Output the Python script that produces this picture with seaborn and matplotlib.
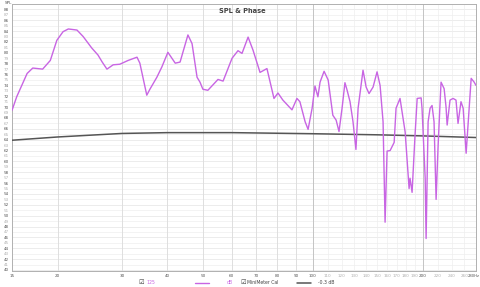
import numpy as np
import pandas as pd
import seaborn as sns
import matplotlib
matplotlib.use("Agg")
import matplotlib.pyplot as plt
from matplotlib.lines import Line2D
from matplotlib.ticker import FixedLocator, FixedFormatter

# ---- data ----
spl_freq = [15.0, 15.45, 16.5, 17.1, 18.2, 19.1, 19.9, 20.7, 21.4, 22.6, 23.5, 24.8, 25.8,
            26.5, 27.3, 28.4, 29.6, 31.2, 33.0, 33.6, 35.1, 35.8, 37.4, 38.6, 40.1, 42.0,
            43.3, 45.5, 46.7, 48.2, 49.1, 50.0, 51.6, 55.0, 56.8, 60.1, 62.4, 64.0, 66.5,
            68.6, 71.7, 74.9, 78.3, 80.3, 82.8, 87.7, 90.5, 92.2, 95.3, 97.1, 99.6, 101.4,
            103.3, 104.7, 107.4, 110.2, 113.5, 115.9, 118.0, 120.3, 122.5, 124.2, 126.5,
            128.9, 131.3, 133.1, 137.3, 140.0, 142.6, 146.3, 150.0, 152.9, 155.8, 157.8,
            159.8, 162.9, 167.1, 169.1, 173.4, 179.1, 183.6, 184.7, 187.1, 190.6, 193.2,
            198.1, 199.2, 203.2, 204.4, 207.0, 209.6, 212.2, 214.9, 217.7, 220.5, 224.6,
            229.0, 231.8, 233.4, 237.7, 242.3, 246.8, 250.0, 254.7, 258.2, 263.1, 271.6,
            276.8, 280.0]
spl_db = [69.4, 71.9, 76.2, 77.2, 77.0, 78.6, 82.3, 83.9, 84.4, 84.2, 83.0, 80.9, 79.6,
          78.3, 77.0, 77.8, 77.9, 78.6, 79.2, 78.1, 72.2, 73.3, 75.5, 77.4, 80.1, 78.1,
          78.3, 83.3, 81.7, 75.5, 74.6, 73.3, 73.1, 75.1, 74.8, 79.0, 80.4, 79.9, 82.9,
          80.5, 76.4, 77.1, 71.6, 72.6, 71.3, 69.5, 71.6, 71.0, 67.3, 65.9, 69.8, 73.9,
          71.9, 74.6, 76.6, 75.0, 68.5, 67.6, 65.5, 69.8, 74.5, 73.1, 71.0,
          67.3, 62.2, 69.8, 76.8, 73.7, 72.5, 73.7, 76.5, 74.0, 67.3, 48.8,
          61.9, 62.0, 63.5, 69.8, 71.6, 65.4, 55.0, 56.9, 54.3, 64.8, 71.6,
          71.7, 69.8, 56.9, 45.8, 67.3, 69.8, 70.3, 67.3, 53.0, 63.0, 74.6,
          73.4, 70.0, 66.7, 71.3, 71.6, 71.3, 67.0, 71.0, 69.8, 61.5, 75.3,
          74.6, 74.0]

cal_freq = [15, 20, 30, 40, 60, 100, 150, 200, 280]
cal_db = [63.9, 64.5, 65.15, 65.3, 65.3, 65.1, 64.9, 64.7, 64.4]

x_major = [15, 20, 30, 40, 50, 60, 70, 80, 90, 100, 200]
x_labels_major = ["15", "20", "30", "40", "50", "60", "70", "80", "90", "100", "200"]
x_minor = [110, 120, 130, 140, 150, 160, 170, 180, 190, 220, 240, 260]
x_labels_minor = ["110", "120", "130", "140", "150", "160", "170", "180", "190", "220", "240", "260"]
x_end_label = "280Hz"
y_ticks = list(range(40, 89))

title = "SPL & Phase"
legend_names = ["125", "dB", "MiniMeter Cal", "-0.3 dB"]

purple = "#c865e3"
dark = "#555555"

sns.set_style("white")
plt.rcParams['font.family'] = ['DejaVu Sans']

fig = plt.figure(figsize=(4.8, 2.87), dpi=100)
ax = fig.add_axes([12/480, 1 - 270.5/287, 464/480, 266.5/287])

df_spl = pd.DataFrame({"freq": spl_freq, "db": spl_db})
df_cal = pd.DataFrame({"freq": cal_freq, "db": cal_db})

sns.lineplot(data=df_spl, x="freq", y="db", ax=ax, color=purple, lw=1.0, zorder=4)
sns.lineplot(data=df_cal, x="freq", y="db", ax=ax, color=dark, lw=1.1, zorder=3)

ax.set_xscale("log")
ax.set_xlim(15, 280)
ax.set_ylim(39.9, 89)
ax.set_xlabel("")
ax.set_ylabel("")

# grid
for yv in y_ticks:
    ax.axhline(yv, color="#efefef" if yv % 2 else "#e4e4e4", lw=0.5, zorder=0)
for xv in x_major[1:]:
    ax.axvline(xv, color="#c4c4c4" if xv in (100, 200) else "#dedede", lw=0.7, zorder=1)
for xv in x_minor:
    ax.axvline(xv, color="#eeeeee", lw=0.5, zorder=1)

ax.xaxis.set_major_locator(FixedLocator(x_major))
ax.xaxis.set_major_formatter(FixedFormatter(x_labels_major))
ax.xaxis.set_minor_locator(FixedLocator(x_minor))
ax.xaxis.set_minor_formatter(FixedFormatter(x_labels_minor))
ax.tick_params(axis="x", which="major", length=0, pad=2.5, labelsize=3.0, labelcolor="#555555")
ax.tick_params(axis="x", which="minor", length=0, pad=2.5, labelsize=3.0, labelcolor="#b0b0b0")
fig.text(479.5/480, 1 - 276.3/287, x_end_label, fontsize=2.7, color="#555555",
         ha="right", va="center")

ax.set_yticks(y_ticks)
ax.set_yticklabels([str(v) for v in y_ticks], fontsize=3.0)
for lab, v in zip(ax.get_yticklabels(), y_ticks):
    lab.set_color("#b0b0b0" if v % 2 else "#555555")
ax.tick_params(axis="y", length=0, pad=2.5)

for s in ax.spines.values():
    s.set_color("#b0b0b0")
    s.set_linewidth(0.7)

ax.text(0.497, 0.985, title, transform=ax.transAxes, ha="center", va="top",
        fontsize=4.8, color="#444444", fontweight="bold")
fig.text(5/480, 1 - 3/287, "SPL", fontsize=3.0, color="#555555", ha="left", va="center")

# legend row at bottom
ly = 1 - 282.5/287
fig.text(141/480, ly, "\u2611", fontsize=4.5, color="#444444", ha="center", va="center")
fig.text(146/480, ly, legend_names[0], fontsize=3.3, color=purple, ha="left", va="center")
fig.add_artist(Line2D([195/480, 209/480], [ly, ly], color=purple, lw=1.0))
fig.text(227/480, ly, legend_names[1], fontsize=3.3, color=purple, ha="left", va="center")
fig.text(243/480, ly, "\u2611", fontsize=4.5, color="#444444", ha="center", va="center")
fig.text(247/480, ly, legend_names[2], fontsize=3.3, color="#444444", ha="left", va="center")
fig.add_artist(Line2D([297/480, 311/480], [ly, ly], color=dark, lw=1.1))
fig.text(318/480, ly, legend_names[3], fontsize=3.3, color="#444444", ha="left", va="center")

fig.savefig("out.png", dpi=100)
